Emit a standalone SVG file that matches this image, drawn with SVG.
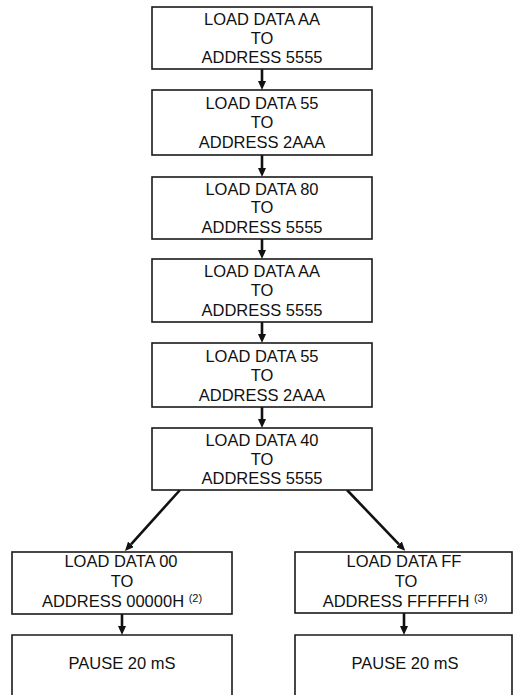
<svg xmlns="http://www.w3.org/2000/svg" width="514" height="695" viewBox="0 0 514 695">
<style>
.box{fill:#fff;stroke:#1a1a1a;stroke-width:1.6}
.t{font-family:"Liberation Sans",Arial,sans-serif;font-size:16.5px;fill:#111;text-anchor:middle}
.sup{font-size:11px}
.arr{stroke:#111;stroke-width:2.6;fill:none}
</style>
<defs>
<marker id="ah" markerUnits="userSpaceOnUse" markerWidth="9" markerHeight="8" viewBox="0 0 9 8" refX="0" refY="4" orient="auto">
<path d="M0,0 L9,4 L0,8 z" fill="#111"/>
</marker>
</defs>
<rect width="514" height="695" fill="#fff"/>
<g id="connectors">
<path class="arr" d="M262,69 L262,81" marker-end="url(#ah)"/>
<path class="arr" d="M262,155 L262,168" marker-end="url(#ah)"/>
<path class="arr" d="M262,239 L262,250" marker-end="url(#ah)"/>
<path class="arr" d="M262,322 L262,334" marker-end="url(#ah)"/>
<path class="arr" d="M262,407 L262,419" marker-end="url(#ah)"/>
<path class="arr" d="M180,490 L131,544.3" marker-end="url(#ah)"/>
<path class="arr" d="M347,490 L399,544.3" marker-end="url(#ah)"/>
<path class="arr" d="M122,614 L122,626" marker-end="url(#ah)"/>
<path class="arr" d="M404,613 L404,626" marker-end="url(#ah)"/>
</g>
<g id="n1">
<rect class="box" x="152" y="7" width="220" height="62"/>
<text class="t" x="262" y="25">LOAD DATA AA</text>
<text class="t" x="262" y="44">TO</text>
<text class="t" x="262" y="63">ADDRESS 5555</text>
</g>
<g id="n2">
<rect class="box" x="152" y="90" width="220" height="65"/>
<text class="t" x="262" y="109">LOAD DATA 55</text>
<text class="t" x="262" y="128">TO</text>
<text class="t" x="262" y="148">ADDRESS 2AAA</text>
</g>
<g id="n3">
<rect class="box" x="152" y="177" width="220" height="62"/>
<text class="t" x="262" y="195">LOAD DATA 80</text>
<text class="t" x="262" y="213">TO</text>
<text class="t" x="262" y="233">ADDRESS 5555</text>
</g>
<g id="n4">
<rect class="box" x="152" y="259" width="220" height="63"/>
<text class="t" x="262" y="277">LOAD DATA AA</text>
<text class="t" x="262" y="296">TO</text>
<text class="t" x="262" y="316">ADDRESS 5555</text>
</g>
<g id="n5">
<rect class="box" x="152" y="343" width="220" height="64"/>
<text class="t" x="262" y="362">LOAD DATA 55</text>
<text class="t" x="262" y="381">TO</text>
<text class="t" x="262" y="401">ADDRESS 2AAA</text>
</g>
<g id="n6">
<rect class="box" x="152" y="428" width="220" height="62"/>
<text class="t" x="262" y="446">LOAD DATA 40</text>
<text class="t" x="262" y="465">TO</text>
<text class="t" x="262" y="484">ADDRESS 5555</text>
</g>
<g id="n7">
<rect class="box" x="12" y="552" width="220" height="62"/>
<text class="t" x="121" y="567">LOAD DATA 00</text>
<text class="t" x="122" y="587">TO</text>
<text class="t" x="122" y="607">ADDRESS 00000H <tspan class="sup" dy="-5">(2)</tspan></text>
</g>
<g id="n8">
<rect class="box" x="295" y="552" width="217" height="61"/>
<text class="t" x="404" y="567">LOAD DATA FF</text>
<text class="t" x="406" y="587">TO</text>
<text class="t" x="405" y="607">ADDRESS FFFFFH <tspan class="sup" dy="-5">(3)</tspan></text>
</g>
<g id="n9">
<path class="box" fill="none" d="M12,700 L12,635 L232,635 L232,700"/>
<text class="t" x="122" y="669">PAUSE 20 mS</text>
</g>
<g id="n10">
<path class="box" fill="none" d="M295,700 L295,635 L512,635 L512,700"/>
<text class="t" x="405" y="669">PAUSE 20 mS</text>
</g>
</svg>
